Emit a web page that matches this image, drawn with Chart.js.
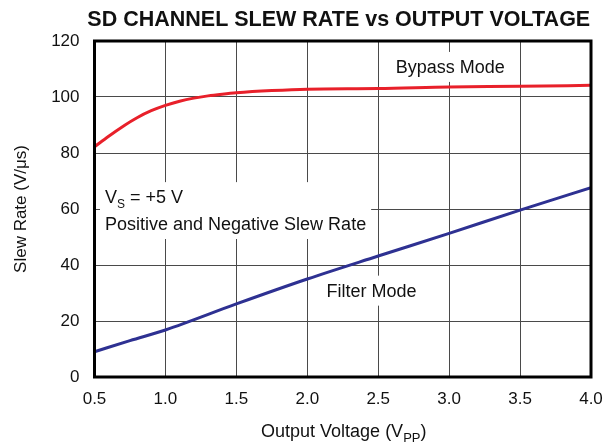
<!DOCTYPE html>
<html>
<head>
<meta charset="utf-8">
<title>SD Channel Slew Rate vs Output Voltage</title>
<script src="https://cdn.jsdelivr.net/npm/chart.js@4.4.1/dist/chart.umd.min.js"></script>
<style>
  html, body { margin: 0; padding: 0; background: #fff; }
  #wrap { width: 605px; height: 447px; }
</style>
</head>
<body>
<div id="wrap"><canvas id="slewChart" width="605" height="447"></canvas></div>
<script>
// Bypass mode (red)
const bypassVpp  = [0.5, 0.6, 0.7, 0.8, 0.9, 1.0, 1.1, 1.2, 1.3, 1.4, 1.5, 1.75, 2.0, 2.5, 3.0, 3.5, 4.0];
const bypassRate = [82.2, 86.0, 89.5, 92.6, 95.1, 97.0, 98.5, 99.6, 100.4, 101.0, 101.5, 102.3, 102.8, 103.0, 103.6, 103.8, 104.2];

// Filter mode (blue)
const filterVpp  = [0.5, 0.75, 1.0, 1.5, 2.0, 2.5, 3.0, 3.5, 4.0];
const filterRate = [9.0, 13.0, 16.8, 26.1, 35.0, 43.2, 51.3, 59.6, 67.6];

const xTicks = [0.5, 1.0, 1.5, 2.0, 2.5, 3.0, 3.5, 4.0];
const yTicks = [0, 20, 40, 60, 80, 100, 120];

const FONT = '"Liberation Sans", Arial, Helvetica, sans-serif';

// text labels inside the plot, anchored in data units (left edge, baseline)
const notes = [
  { lines: [[{ t: 'Bypass Mode' }]], x: 2.623, y: [108.6] },
  { lines: [[{ t: 'V' }, { t: 'S', sub: true }, { t: ' = +5 V' }],
            [{ t: 'Positive and Negative Slew Rate' }]], x: 0.574, y: [62.1, 52.5] },
  { lines: [[{ t: 'Filter Mode' }]], x: 2.135, y: [28.7] }
];

function partsWidth(ctx, parts, size, subSize) {
  let w = 0;
  parts.forEach(p => {
    ctx.font = `${p.sub ? subSize : size}px ${FONT}`;
    w += ctx.measureText(p.t).width;
  });
  return w;
}

function drawParts(ctx, parts, x, y, size, subSize) {
  parts.forEach(p => {
    ctx.font = `${p.sub ? subSize : size}px ${FONT}`;
    ctx.fillText(p.t, x, p.sub ? y + 5 : y);
    x += ctx.measureText(p.t).width;
  });
}

const decorations = {
  id: 'decorations',
  beforeDatasetsDraw(chart) {
    // white boxes behind the labels hide the grid
    const { ctx, scales: { x, y } } = chart;
    ctx.save();
    ctx.fillStyle = '#fff';
    notes.forEach(n => {
      const px = x.getPixelForValue(n.x);
      const widths = n.lines.map(l => partsWidth(ctx, l, 18, 12));
      const w = Math.max(...widths);
      const top = y.getPixelForValue(n.y[0]) - 21;
      const bottom = y.getPixelForValue(n.y[n.y.length - 1]) + 9;
      ctx.fillRect(px - 5, top, w + 10, bottom - top);
    });
    ctx.restore();
  },
  afterDatasetsDraw(chart) {
    const { ctx, chartArea: a, scales: { x, y } } = chart;
    ctx.save();

    // frame
    ctx.strokeStyle = '#000';
    ctx.lineWidth = 3;
    ctx.strokeRect(a.left, a.top, a.right - a.left, a.bottom - a.top);

    ctx.fillStyle = '#111';
    ctx.textBaseline = 'alphabetic';
    ctx.textAlign = 'left';
    notes.forEach(n => {
      const px = x.getPixelForValue(n.x);
      n.lines.forEach((l, i) => drawParts(ctx, l, px, y.getPixelForValue(n.y[i]), 18, 12));
    });

    // title
    ctx.textAlign = 'center';
    ctx.font = `bold 21.5px ${FONT}`;
    ctx.fillText('SD CHANNEL SLEW RATE vs OUTPUT VOLTAGE', (a.left + a.right) / 2 - 4, 26);

    // x axis title
    ctx.textAlign = 'left';
    const xt = [{ t: 'Output Voltage (V' }, { t: 'PP', sub: true }, { t: ')' }];
    const xw = partsWidth(ctx, xt, 18, 13);
    drawParts(ctx, xt, (a.left + a.right) / 2 - xw / 2 + 1, 437, 18, 13);

    // y axis title
    ctx.translate(26, (a.top + a.bottom) / 2);
    ctx.rotate(-Math.PI / 2);
    ctx.textAlign = 'center';
    ctx.font = `17px ${FONT}`;
    ctx.fillText('Slew Rate (V/\u03BCs)', 0, 0);
    ctx.restore();
  }
};

const ctx = document.getElementById('slewChart').getContext('2d');
new Chart(ctx, {
  type: 'line',
  data: {
    datasets: [
      {
        label: 'Bypass Mode',
        data: bypassVpp.map((v, i) => ({ x: v, y: bypassRate[i] })),
        borderColor: '#e8202a',
        borderWidth: 3,
        pointRadius: 0,
        cubicInterpolationMode: 'monotone'
      },
      {
        label: 'Filter Mode',
        data: filterVpp.map((v, i) => ({ x: v, y: filterRate[i] })),
        borderColor: '#2e3192',
        borderWidth: 3,
        pointRadius: 0,
        cubicInterpolationMode: 'monotone'
      }
    ]
  },
  options: {
    responsive: false,
    animation: false,
    layout: { padding: { top: 41, right: 14, left: 0, bottom: 0 } },
    plugins: {
      legend: { display: false },
      tooltip: { enabled: false }
    },
    scales: {
      x: {
        type: 'linear',
        min: xTicks[0],
        max: xTicks[xTicks.length - 1],
        afterBuildTicks: s => { s.ticks = xTicks.map(v => ({ value: v })); },
        afterFit: s => {
          s.height = 70;
          s.paddingLeft = 0;
          s.paddingRight = 0;
        },
        grid: { color: '#4a4a4a', lineWidth: 1, drawTicks: false },
        border: { display: false },
        ticks: {
          padding: 12,
          color: '#111',
          font: { family: FONT, size: 17 },
          callback: v => v.toFixed(1)
        }
      },
      y: {
        min: yTicks[0],
        max: yTicks[yTicks.length - 1],
        afterBuildTicks: s => { s.ticks = yTicks.map(v => ({ value: v })); },
        afterFit: s => {
          s.width = 94.5;
          s.paddingTop = 0;
          s.paddingBottom = 0;
        },
        grid: { color: '#4a4a4a', lineWidth: 1, drawTicks: false },
        border: { display: false },
        ticks: {
          padding: 15,
          color: '#111',
          font: { family: FONT, size: 17 }
        }
      }
    }
  },
  plugins: [decorations]
});
</script>
</body>
</html>
